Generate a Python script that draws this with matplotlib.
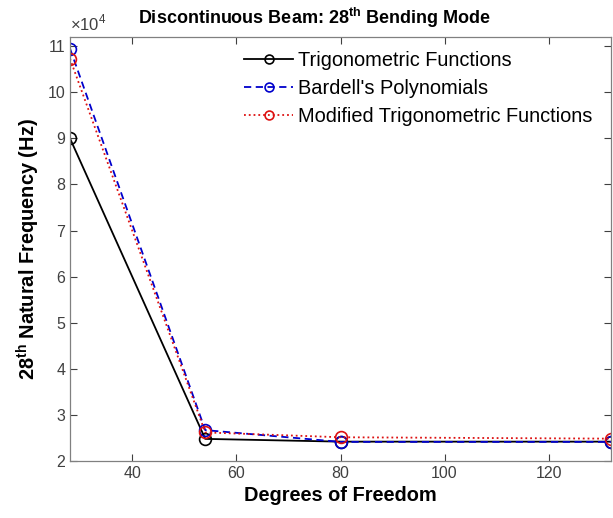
import numpy as np
import matplotlib.pyplot as plt
from matplotlib.ticker import FuncFormatter

plt.rcParams['font.family'] = ['Liberation Sans', 'DejaVu Sans']
plt.rcParams['mathtext.fontset'] = 'custom'
plt.rcParams['mathtext.rm'] = 'Liberation Sans'
plt.rcParams['mathtext.bf'] = 'Liberation Sans:bold'

dof = [28, 54, 80, 132]
trig = [90000, 24800, 24200, 24200]
bardell = [109500, 26700, 24150, 24150]
modtrig = [107300, 26200, 25150, 24850]

W, H = 613, 518
fig = plt.figure(figsize=(W / 100, H / 100), dpi=100)
ax = fig.add_axes([70 / W, 1 - 461 / H, 541 / W, 424 / H])

ax.plot(dof, trig, '-o', color='black', lw=1.3, ms=8.5, mfc='none', mew=1.2,
        label='Trigonometric Functions')
ax.plot(dof, bardell, '--o', color='#0000cc', lw=1.3, ms=8.5, mfc='none', mew=1.2,
        label="Bardell's Polynomials", dashes=(4, 2.5))
ax.plot(dof, modtrig, ':o', color='#dd1111', lw=1.3, ms=8.5, mfc='none', mew=1.2,
        label='Modified Trigonometric Functions')

ax.set_xlim(28, 132)
ax.set_ylim(20000, 112000)
ax.set_xticks([40, 60, 80, 100, 120])
ax.set_yticks(np.arange(2, 12) * 1e4)
ax.yaxis.set_major_formatter(FuncFormatter(lambda v, p: '%d' % round(v / 1e4)))
ax.tick_params(direction='in', top=True, right=True, labelsize=11.5,
               colors='#404040', length=5, width=0.8)
for s in ax.spines.values():
    s.set_color('#808080')
    s.set_linewidth(0.9)

ax.text(0.0, 1.008, r'$\times 10^4$', transform=ax.transAxes, fontsize=12,
        color='#404040', ha='left', va='bottom')
fig.text(314 / W, 1 - 6 / H, r'Discontinuous Beam: 28$^{\mathbf{th}}$ Bending Mode',
         fontsize=13, fontweight='bold', ha='center', va='top')
ax.set_xlabel('Degrees of Freedom', fontsize=14.4, fontweight='bold')
ax.set_ylabel(r'28$^{\mathbf{th}}$ Natural Frequency (Hz)', fontsize=14.4,
              fontweight='bold')

ax.legend(loc='upper left', bbox_to_anchor=(244 / W, 1 - 51 / H),
          bbox_transform=fig.transFigure, frameon=False, borderpad=0,
          borderaxespad=0, fontsize=14.4, handlelength=2.45,
          handletextpad=0.25, labelspacing=0.45, markerscale=0.75)

fig.savefig('out.png', dpi=100)
